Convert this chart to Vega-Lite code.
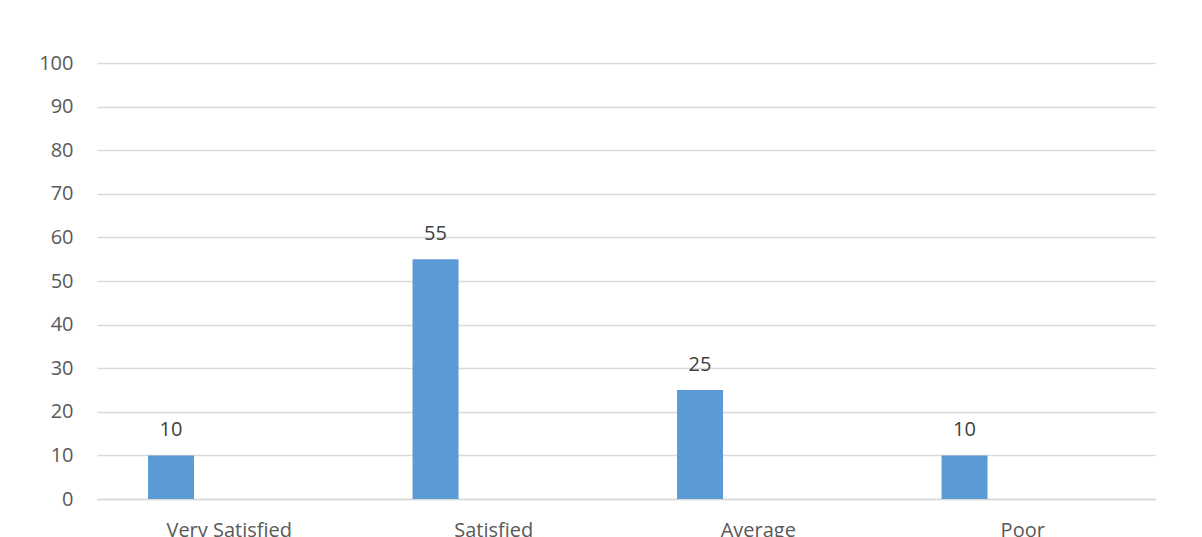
{
  "$schema": "https://vega.github.io/schema/vega-lite/v6.json",
  "width": 1058,
  "height": 436,
  "autosize": {"type": "none"},
  "padding": {"left": 97, "top": 63, "right": 47, "bottom": 38},
  "background": "white",
  "config": {
    "view": {"stroke": null},
    "font": "Open Sans"
  },
  "data": {
    "values": [
      {"category": "Very Satisfied", "series": "Series1", "value": 10},
      {"category": "Satisfied", "series": "Series1", "value": 55},
      {"category": "Average", "series": "Series1", "value": 25},
      {"category": "Poor", "series": "Series1", "value": 10}
    ]
  },
  "encoding": {
    "x": {
      "field": "category",
      "type": "nominal",
      "sort": ["Very Satisfied", "Satisfied", "Average", "Poor"],
      "scale": {"paddingInner": 0, "paddingOuter": 0},
      "axis": {
        "title": null,
        "labelAngle": 0,
        "ticks": false,
        "domainColor": "#d9d9d9",
        "domainWidth": 1.5,
        "labelFontSize": 20,
        "labelColor": "#595959",
        "labelPadding": 21,
        "labelBaseline": "top"
      }
    },
    "xOffset": {
      "field": "series",
      "type": "nominal",
      "scale": {"domain": ["Series1", "Series2", "Series3", "Series4"], "paddingInner": 0, "paddingOuter": 0.875, "align": 0.634}
    },
    "y": {
      "field": "value",
      "type": "quantitative",
      "scale": {"domain": [0, 100]},
      "axis": {
        "title": null,
        "values": [0, 10, 20, 30, 40, 50, 60, 70, 80, 90, 100],
        "labelOverlap": false,
        "ticks": false,
        "domain": false,
        "gridColor": "#d9d9d9",
        "gridWidth": 1.5,
        "labelFontSize": 20,
        "labelColor": "#595959",
        "labelPadding": 24
      }
    }
  },
  "layer": [
    {"mark": {"type": "bar", "color": "#5b9bd5"}},
    {
      "mark": {"type": "text", "fontSize": 20, "color": "#404040", "baseline": "alphabetic", "dy": -19},
      "encoding": {"text": {"field": "value", "type": "quantitative"}}
    }
  ]
}
